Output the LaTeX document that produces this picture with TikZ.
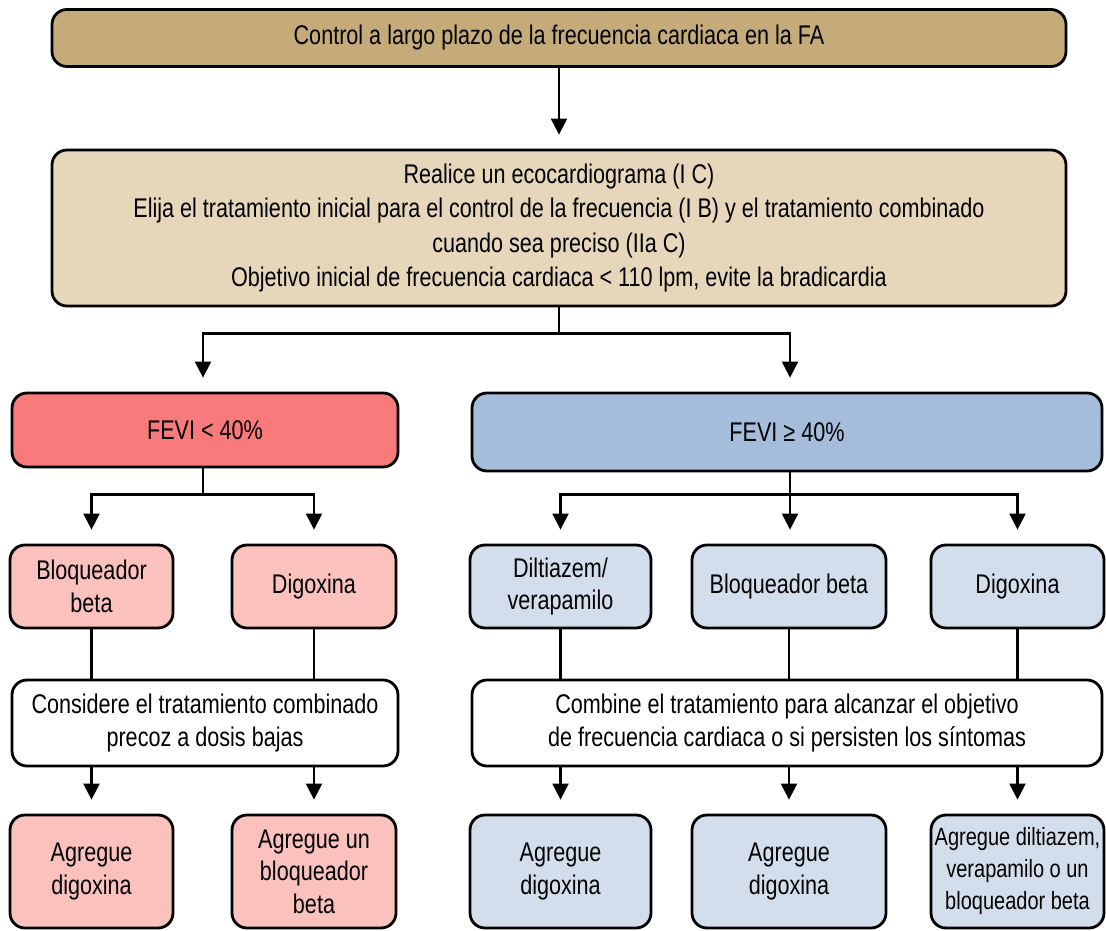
\documentclass[tikz,border=0pt]{standalone}
\usepackage{fontspec}
\setmainfont{Liberation Sans}[FakeStretch=0.8]
\usepackage{tikz}
\usetikzlibrary{arrows.meta}

\definecolor{tanfuerte}{HTML}{C6AB7A}
\definecolor{tanclaro}{HTML}{E6D6BA}
\definecolor{rojofuerte}{HTML}{F87A7A}
\definecolor{rojoclaro}{HTML}{FAC1BD}
\definecolor{azulfuerte}{HTML}{A5BDDB}
\definecolor{azulclaro}{HTML}{D3DEEC}

\tikzset{
  caja/.style={draw, line width=2.8pt, rounded corners=15pt, align=center,
    inner sep=0pt, font=\fontsize{27}{32.5}\selectfont},
  flecha/.style={line width=2.2pt, -{Triangle[length=16pt,width=16pt]}, shorten >=14pt},
  linea/.style={line width=2.2pt}
}

\begin{document}
\begin{tikzpicture}[x=1pt,y=-1pt]
                \useasboundingbox (0,0) rectangle (1106,931);
                 % cabecera
                 \node[caja, fill=tanfuerte, minimum width=1014pt, minimum height=57pt] (ctrl) at (559,38)
                   {Control a largo plazo de la frecuencia cardiaca en la FA};
                 \node[caja, fill=tanclaro, minimum width=1014pt, minimum height=156pt,
                   font=\fontsize{27}{34.5}\selectfont] (eco) at (559,228)
                   {Realice un ecocardiograma (I C)\\
                    Elija el tratamiento inicial para el control de la frecuencia (I B) y el tratamiento combinado\\
                    cuando sea preciso (IIa C)\\
                    Objetivo inicial de frecuencia cardiaca < 110 lpm, evite la bradicardia};
                 % FEVI
                 \node[caja, fill=rojofuerte, minimum width=386pt, minimum height=74pt] (fevib) at (205,430) {FEVI < 40\%};
                 \node[caja, fill=azulfuerte, minimum width=630pt, minimum height=78pt] (fevia) at (787,432) {FEVI ≥ 40\%};
                 % fila de farmacos
                 \node[caja, fill=rojoclaro, minimum width=163pt, minimum height=83pt] (bb1) at (91.5,586.5) {Bloqueador\\beta};
                 \node[caja, fill=rojoclaro, minimum width=164pt, minimum height=83pt] (dg1) at (314,586.5) {Digoxina};
                 \node[caja, fill=azulclaro, minimum width=181pt, minimum height=83pt] (dv) at (560.5,586.5) {Diltiazem/\\verapamilo};
                 \node[caja, fill=azulclaro, minimum width=194pt, minimum height=83pt] (bb2) at (789,586.5) {Bloqueador beta};
                 \node[caja, fill=azulclaro, minimum width=173pt, minimum height=83pt] (dg2) at (1017.5,586.5) {Digoxina};
                 % combinado
                 \node[caja, fill=white, minimum width=386pt, minimum height=86pt] (cons) at (205,723)
                   {Considere el tratamiento combinado\\precoz a dosis bajas};
                 \node[caja, fill=white, minimum width=630pt, minimum height=86pt] (comb) at (787,723)
                   {Combine el tratamiento para alcanzar el objetivo\\de frecuencia cardiaca o si persisten los síntomas};
                 % agregue
                 \node[caja, fill=rojoclaro, minimum width=163pt, minimum height=113pt] (ag1) at (91.5,871.5) {Agregue\\digoxina};
                 \node[caja, fill=rojoclaro, minimum width=164pt, minimum height=113pt] (ag2) at (314,871.5) {Agregue un\\bloqueador\\beta};
                 \node[caja, fill=azulclaro, minimum width=181pt, minimum height=113pt] (ag3) at (560.5,871.5) {Agregue\\digoxina};
                 \node[caja, fill=azulclaro, minimum width=194pt, minimum height=113pt] (ag4) at (789,871.5) {Agregue\\digoxina};
                 \node[caja, fill=azulclaro, minimum width=173pt, minimum height=113pt,
                   font=\fontsize{25}{32}\selectfont] (ag5) at (1017.5,871.5)
                   {Agregue diltiazem,\\verapamilo o un\\bloqueador beta};
                 % conectores
                 \path (eco.south) ++(0,26) coordinate (j1);
                 \path ([xshift=-2pt]fevib.south) ++(0,26) coordinate (j2);
                 \path ([xshift=3pt]fevia.south) ++(0,22) coordinate (j3);
                 \draw[flecha] (ctrl.south) -- (eco.north);
                 \draw[linea] (eco.south) -- (j1);
                 \draw[flecha] (j1) -| ([xshift=-2pt]fevib.north);
                 \draw[flecha] (j1) -| ([xshift=3pt]fevia.north);
                 \draw[linea] ([xshift=-2pt]fevib.south) -- (j2);
                 \draw[flecha] (j2) -| (bb1.north);
                 \draw[flecha] (j2) -| (dg1.north);
                 \draw[linea] ([xshift=3pt]fevia.south) -- (j3);
                 \draw[flecha] (j3) -| (dv.north);
                 \draw[flecha] (j3) -- (j3 |- bb2.north);
                 \draw[flecha] (j3) -| (dg2.north);
                 \draw[linea] (bb1.south) -- (bb1.south |- cons.north);
                 \draw[linea] (dg1.south) -- (dg1.south |- cons.north);
                 \draw[linea] (dv.south) -- (dv.south |- comb.north);
                 \draw[linea] (bb2.south) -- (bb2.south |- comb.north);
                 \draw[linea] (dg2.south) -- (dg2.south |- comb.north);
                 \draw[flecha] (ag1.north |- cons.south) -- (ag1.north);
                 \draw[flecha] (ag2.north |- cons.south) -- (ag2.north);
                 \draw[flecha] (ag3.north |- comb.south) -- (ag3.north);
                 \draw[flecha] (ag4.north |- comb.south) -- (ag4.north);
                 \draw[flecha] (ag5.north |- comb.south) -- (ag5.north);
            \end{tikzpicture}
\end{document}
